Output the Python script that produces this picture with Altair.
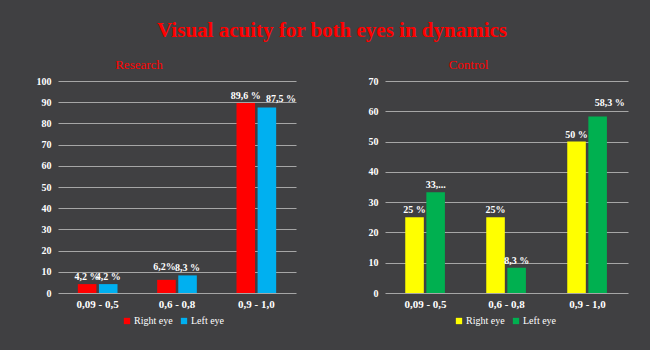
import altair as alt
import pandas as pd

categories = ["0,09 - 0,5", "0,6 - 0,8", "0,9 - 1,0"]
series = ["Right eye", "Left eye"]

research_right = [4.2, 6.2, 89.6]
research_left = [4.2, 8.3, 87.5]
research_right_labels = ["4,2 %", "6,2%", "89,6 %"]
research_left_labels = ["4,2 %", "8,3 %", "87,5 %"]

control_right = [25, 25, 50]
control_left = [33.3, 8.3, 58.3]
control_right_labels = ["25 %", "25%", "50 %"]
control_left_labels = ["33,...", "8,3 %", "58,3 %"]

FONT = "Liberation Serif"
BG = "#404042"
GRID = "#a6a6a6"


def make_df(right, left, rlab, llab):
    rows = []
    for c, v, l in zip(categories, right, rlab):
        rows.append({"cat": c, "eye": series[0], "value": v, "label": l})
    for c, v, l in zip(categories, left, llab):
        rows.append({"cat": c, "eye": series[1], "value": v, "label": l})
    return pd.DataFrame(rows)


def panel(df, title, ymax, colors, width, lx, shifted):
    base = alt.Chart(df).encode(
        x=alt.X(
            "cat:N",
            sort=categories,
            title=None,
            scale=alt.Scale(paddingInner=0.5, paddingOuter=0.25),
            axis=alt.Axis(
                labelAngle=0,
                ticks=False,
                domain=False,
                labelColor="white",
                labelFont=FONT,
                labelFontSize=11,
                labelFontWeight="bold",
                labelPadding=5,
            ),
        ),
        xOffset=alt.XOffset("eye:N", sort=series, scale=alt.Scale(paddingInner=0.12)),
        y=alt.Y(
            "value:Q",
            title=None,
            scale=alt.Scale(domain=[0, ymax], nice=False),
            axis=alt.Axis(
                values=list(range(0, ymax + 1, 10)),
                ticks=False,
                domain=False,
                grid=True,
                gridColor=GRID,
                gridWidth=1,
                labelColor="white",
                labelFont=FONT,
                labelFontSize=10,
                labelFontWeight="bold",
                labelPadding=7,
            ),
        ),
    )
    bars = base.mark_bar().encode(
        color=alt.Color(
            "eye:N",
            sort=series,
            scale=alt.Scale(domain=series, range=colors),
            legend=alt.Legend(
                orient="none",
                legendX=lx,
                legendY=235,
                direction="horizontal",
                title=None,
                symbolType="square",
                symbolSize=40,
                symbolStrokeWidth=0,
                labelColor="white",
                labelFont=FONT,
                labelFontSize=10,
                columnPadding=6,
                labelOffset=2,
            ),
        )
    )
    names = list(shifted.keys())
    cond = " && ".join([f"datum.label != '{n}'" for n in names]) or "true"
    layers = [bars]
    layers.append(
        base.mark_text(dy=-7, color="white", font=FONT, fontSize=10, fontWeight="bold")
        .encode(text="label:N")
        .transform_filter(cond)
    )
    for n, (dx, dy) in shifted.items():
        layers.append(
            base.mark_text(dx=dx, dy=dy, color="white", font=FONT, fontSize=10, fontWeight="bold")
            .encode(text="label:N")
            .transform_filter(f"datum.label == '{n}'")
        )
    return alt.layer(*layers).properties(
        width=width,
        height=212,
        title=alt.Title(
            title, color="red", font=FONT, fontSize=13, fontWeight="normal", dx=-38, offset=4
        ),
    )


left = panel(
    make_df(research_right, research_left, research_right_labels, research_left_labels),
    "Research", 100, ["#ff0000", "#00b0f0"], 238, 64,
    {"6,2%": (-2, -13), "87,5 %": (14, -9)},
)
right = panel(
    make_df(control_right, control_left, control_right_labels, control_left_labels),
    "Control", 70, ["#ffff00", "#00b050"], 243, 69,
    {"58,3 %": (12, -13)},
)

chart = (
    alt.hconcat(left, right, spacing=72)
    .resolve_scale(color="independent", y="independent")
    .resolve_legend(color="independent")
    .properties(
        background=BG,
        padding={"left": 36, "top": 20, "right": 22, "bottom": 24},
        title=alt.Title(
            "Visual acuity for both eyes in dynamics",
            color="red",
            font=FONT,
            fontSize=21,
            fontWeight="bold",
            anchor="middle",
            offset=18,
        ),
    )
    .configure_view(stroke=None)
)

chart.save("out.html", embed_options={"renderer": "svg", "actions": False})
